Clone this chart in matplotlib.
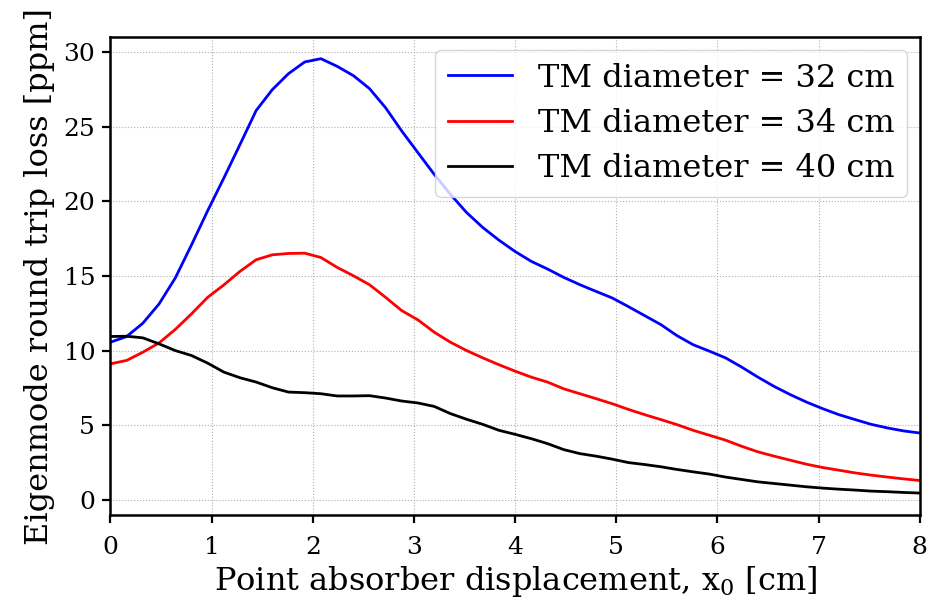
import numpy as np
import matplotlib
matplotlib.use("Agg")
import matplotlib.pyplot as plt

# Point absorber displacement grid [cm]
x0 = np.linspace(0.0, 8.0, 51)

# Eigenmode round-trip loss [ppm] for each test-mass diameter
loss_32cm = [10.57, 10.95, 11.84, 13.13, 14.86, 17.07, 19.36, 21.55, 23.80, 26.08,
             27.48, 28.55, 29.33, 29.55, 29.04, 28.42, 27.55, 26.26, 24.70, 23.25,
             21.81, 20.47, 19.25, 18.25, 17.40, 16.64, 15.98, 15.47, 14.91, 14.42,
             13.97, 13.53, 12.95, 12.35, 11.75, 11.01, 10.40, 9.97, 9.52, 8.90,
             8.23, 7.61, 7.06, 6.56, 6.12, 5.72, 5.39, 5.07, 4.83, 4.63, 4.49]
loss_34cm = [9.12, 9.35, 9.90, 10.52, 11.42, 12.46, 13.57, 14.40, 15.31, 16.09,
             16.42, 16.51, 16.53, 16.24, 15.58, 15.02, 14.42, 13.57, 12.68, 12.06,
             11.24, 10.57, 10.01, 9.52, 9.06, 8.63, 8.23, 7.90, 7.45, 7.12,
             6.79, 6.45, 6.07, 5.72, 5.39, 5.05, 4.67, 4.34, 4.01, 3.60,
             3.23, 2.94, 2.67, 2.40, 2.18, 2.00, 1.82, 1.67, 1.54, 1.42, 1.31]
loss_40cm = [10.95, 10.97, 10.86, 10.46, 10.01, 9.68, 9.17, 8.57, 8.19, 7.90,
             7.52, 7.23, 7.19, 7.12, 6.97, 6.97, 6.99, 6.83, 6.63, 6.50,
             6.27, 5.79, 5.41, 5.07, 4.67, 4.40, 4.11, 3.78, 3.38, 3.11,
             2.94, 2.74, 2.51, 2.38, 2.23, 2.05, 1.89, 1.74, 1.54, 1.38,
             1.22, 1.11, 1.00, 0.89, 0.80, 0.73, 0.67, 0.60, 0.56, 0.51, 0.47]

series = [
    (loss_32cm, "blue", "TM diameter = 32 cm"),
    (loss_34cm, "red", "TM diameter = 34 cm"),
    (loss_40cm, "black", "TM diameter = 40 cm"),
]

plt.rcParams["font.family"] = "DejaVu Serif"
plt.rcParams["mathtext.fontset"] = "dejavuserif"

fig = plt.figure(figsize=(9.3, 6.02), dpi=100)
ax = fig.add_axes([0.1188, 0.1445, 0.8702, 0.794])

for y, color, label in series:
    ax.plot(x0, y, color=color, lw=2.0, label=label)

ax.set_xlim(0, 8)
ax.set_ylim(-1, 31)
ax.set_xticks(range(0, 9))
ax.set_yticks(range(0, 31, 5))

ax.grid(True, color="#b0b0b0", linestyle=":", linewidth=0.8)
for side in ax.spines.values():
    side.set_linewidth(1.8)
ax.tick_params(axis="both", which="major", labelsize=18, direction="out",
               length=6, width=1.6)
ax.tick_params(axis="x", pad=9)
ax.tick_params(axis="y", pad=5)

ax.set_xlabel(r"Point absorber displacement, x$_0$ [cm]", fontsize=23, labelpad=4)
ax.set_ylabel("Eigenmode round trip loss [ppm]", fontsize=23, labelpad=6)

ax.legend(loc="upper right", fontsize=23, framealpha=0.8, handlelength=2.0,
          borderaxespad=0.4, labelspacing=0.45)

fig.savefig("out.png", dpi=100)
